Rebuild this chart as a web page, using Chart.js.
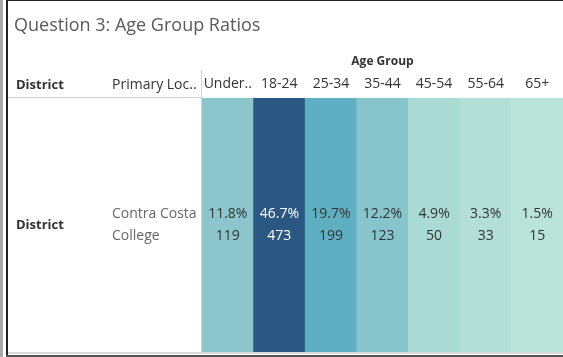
<!DOCTYPE html>
<html>
<head>
<meta charset="utf-8">
<script src="https://cdn.jsdelivr.net/npm/chart.js@4/dist/chart.umd.min.js"></script>
<style>
	html, body { margin: 0; padding: 0; background: #fff; }
	canvas { display: block; }
</style>
</head>
<body>
<canvas id="agechart" width="563" height="357"></canvas>
<script>
const ageGroups = ['Under..', '18-24', '25-34', '35-44', '45-54', '55-64', '65+'];
const agePercents = [11.8, 46.7, 19.7, 12.2, 4.9, 3.3, 1.5];
const ageCounts = [119, 473, 199, 123, 50, 33, 15];
const rowDistrict = 'District';
const rowLocation = ['Contra Costa', 'College'];
const cellFill = [1, 1, 1, 1, 1, 1, 1]; // one row, every cell fills the row

// Blue-teal colours per cell (highlight by percentage)
const cellColors = ['#8bc6cc', '#2b5783', '#5fafc2', '#86c5cb', '#a9dbd4', '#b3dfd6', '#bbe4d9'];
const textColor = '#333333';
const fontFamily = "'Open Sans', 'Noto Sans', sans-serif";
Chart.defaults.font.family = fontFamily;

// Draws the frame, the row headers and the cell labels
const tablePlugin = {
	id: 'tablePlugin',
	beforeDraw(chart) {
		const ctx = chart.ctx;
		ctx.save();
		// outer frame
		ctx.fillStyle = '#a9a9a9';
		ctx.fillRect(0, 0, 3, 357);
		ctx.fillStyle = '#222';
		ctx.fillRect(6, 0, 2, 357);
		ctx.fillRect(6, 0, 557, 1);
		ctx.fillStyle = '#555';
		ctx.fillRect(6, 355, 557, 2);
		ctx.fillStyle = '#d9d9d9';
		ctx.fillRect(8, 352, 555, 2);
		// header separators
		ctx.fillStyle = '#d4d4d4';
		ctx.fillRect(8, 97, 193, 1);
		ctx.fillRect(201, 70, 1, 282);
		// title
		ctx.fillStyle = '#5a5a5a';
		ctx.font = '18px ' + fontFamily;
		ctx.textBaseline = 'alphabetic';
		ctx.fillText('Question 3: Age Group Ratios', 14, 31);
		// column headers on the left
		ctx.fillStyle = textColor;
		ctx.font = 'bold 13px ' + fontFamily;
		ctx.fillText('District', 16, 89);
		ctx.font = '14px ' + fontFamily;
		ctx.fillText('Primary Loc..', 112, 89);
		ctx.restore();
	},
	afterDatasetsDraw(chart) {
		const ctx = chart.ctx;
		const xs = chart.scales.x;
		const area = chart.chartArea;
		const mid = (area.top + area.bottom) / 2;
		ctx.save();
		ctx.textBaseline = 'middle';
		// row headers
		ctx.fillStyle = textColor;
		ctx.font = 'bold 13px ' + fontFamily;
		ctx.fillText(rowDistrict, 16, mid);
		ctx.fillStyle = '#666666';
		ctx.font = '14px ' + fontFamily;
		ctx.fillText(rowLocation[0], 112, mid - 11);
		ctx.fillText(rowLocation[1], 112, mid + 11);
		// cell labels
		ctx.textAlign = 'center';
		ageGroups.forEach(function (g, i) {
			const x = xs.getPixelForValue(i);
			ctx.fillStyle = i === 1 ? '#ffffff' : textColor;
			ctx.fillText(agePercents[i].toFixed(1) + '%', x, mid - 11);
			ctx.fillText(String(ageCounts[i]), x, mid + 11);
		});
		ctx.restore();
	}
};

new Chart('agechart', {
	type: 'bar',
	data: {
		labels: ageGroups,
		datasets: [{
			data: cellFill,
			backgroundColor: cellColors,
			borderWidth: 0,
			barPercentage: 1,
			categoryPercentage: 1
		}]
	},
	options: {
		responsive: false,
		animation: false,
		layout: {
			padding: { left: 202, top: 54, right: 0, bottom: 5 }
		},
		plugins: {
			legend: { display: false },
			tooltip: { enabled: false }
		},
		scales: {
			x: {
				position: 'top',
				grid: { display: false, drawTicks: false },
				border: { display: false },
				ticks: {
					color: textColor,
					font: { size: 14 },
					padding: 6,
					maxRotation: 0,
					autoSkip: false
				},
				title: {
					display: true,
					text: 'Age Group',
					color: textColor,
					font: { size: 12, weight: 'bold' },
					padding: { top: 0, bottom: 4 }
				},
				afterFit(scale) {
					scale.height = 44;
				}
			},
			y: {
				display: false,
				min: 0,
				max: 1
			}
		}
	},
	plugins: [tablePlugin]
});
</script>
</body>
</html>
